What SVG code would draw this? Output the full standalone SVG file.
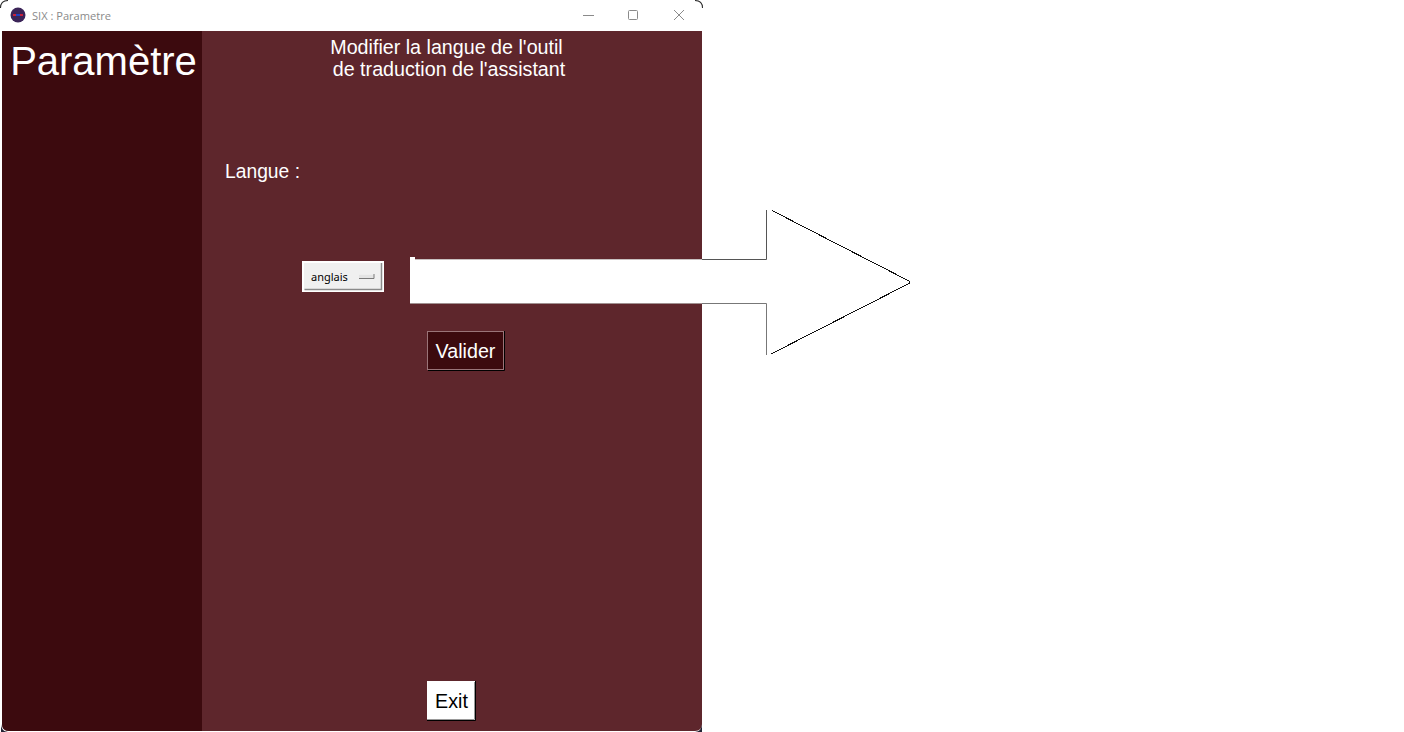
<svg xmlns="http://www.w3.org/2000/svg" width="1404" height="732" viewBox="0 0 1404 732">
<style>
.t{font-family:"Liberation Sans",Arial,sans-serif;fill:#fff}
.l{font-size:19.700px}
.win{stroke:#8a8a8a;stroke-width:1;fill:none}
</style>
<rect width="1404" height="732" fill="#fff"/>
<g id="window">
<path d="M2 31H702V724Q702 731 695 731H9Q2 731 2 724Z" fill="#5e262c"/>
<path d="M2 31H202V731H9Q2 731 2 724Z" fill="#3c0a0e"/>
<path d="M0 8Q0 0 8 0V1Q1 1 1 8Z" fill="#222"/>
<path d="M703 8Q703 0 695 0V1Q702 1 702 8Z" fill="#222"/>
<path d="M1 724Q1 731 8 732H1Z" fill="#223"/>
<path d="M702 724Q702 731 695 732H702Z" fill="#223"/>
</g>
<g id="titlebar">
<circle cx="18" cy="15" r="7.500" fill="#3b2458"/>
<rect x="13" y="14" width="10" height="2" fill="#c8203c"/>
<rect x="16" y="14" width="4" height="2" fill="#2040c0"/>
<text x="32" y="20" font-size="11.500" style="font-family:'Open Sans',sans-serif" fill="#8a8a8a" textLength="79" lengthAdjust="spacingAndGlyphs">SIX : Parametre</text>
<path class="win" d="M583 15.500H594"/>
<rect class="win" x="628.500" y="10.500" width="9" height="9" rx="1"/>
<path class="win" d="M674 10L684 20M684 10L674 20"/>
</g>
<g id="heading">
<text class="t" x="103.500" y="75" font-size="40" text-anchor="middle">Paramètre</text>
</g>
<g id="description">
<text class="t l" x="446.500" y="54" text-anchor="middle">Modifier la langue de l'outil</text>
<text class="t l" x="449" y="76" text-anchor="middle">de traduction de l'assistant</text>
</g>
<g id="langue-label">
<text class="t l" x="225" y="178" textLength="75" lengthAdjust="spacingAndGlyphs">Langue :</text>
</g>
<g id="dropdown">
<rect x="302" y="261" width="82" height="31" fill="#fff"/>
<rect x="304" y="263" width="78" height="27" fill="#f0f0f0"/>
<path d="M304.500 289.500H381.500V263" fill="none" stroke="#8a8a8a" stroke-width="1.500"/>
<text x="311" y="281" font-size="11" style="font-family:'Noto Sans',sans-serif" fill="#000">anglais</text>
<rect x="359" y="274" width="15" height="5" fill="#e4e4e4"/>
<path d="M359 274.500H374" stroke="#eee" stroke-width="1"/>
<path d="M359 278.500H374V274" fill="none" stroke="#7a7a7a" stroke-width="1"/>
</g>
<g id="arrow">
<path d="M410 260H767V210H772L910 282L772 354L767 355V303H410Z" fill="#fff"/>
<path d="M410 260H415V257H410Z" fill="#fff"/>
<path d="M415 259.500H702" fill="none" stroke="#c8c0c0" stroke-width="1"/>
<path d="M702 259.500H766.500V210" fill="none" stroke="#555" stroke-width="1"/>
<path d="M410 303.500H702" fill="none" stroke="#a09090" stroke-width="1"/>
<path d="M702 303.500H766.500V355" fill="none" stroke="#777" stroke-width="1"/>
<path d="M772 210.500L909 281Q910 282 909 283.500L771 354" fill="none" stroke="#111" stroke-width="1" shape-rendering="crispEdges"/>
</g>
<g id="valider">
<rect x="427.500" y="331.500" width="76" height="38" fill="#3c0a0e" stroke="#9a7478" stroke-width="1"/>
<path d="M504.500 331V370.500H428" fill="none" stroke="#000" stroke-width="1"/>
<text class="t l" x="465.500" y="358" text-anchor="middle">Valider</text>
</g>
<g id="exit">
<rect x="427" y="681" width="48" height="39" fill="#fff"/>
<path d="M475.500 681V720.500H427" fill="none" stroke="#000" stroke-width="1"/>
<path d="M474.500 682V719.500H427" fill="none" stroke="#999" stroke-width="1"/>
<text x="451.500" y="708" font-size="19.700" text-anchor="middle" style="font-family:'Liberation Sans',Arial,sans-serif" fill="#000">Exit</text>
</g>
</svg>
